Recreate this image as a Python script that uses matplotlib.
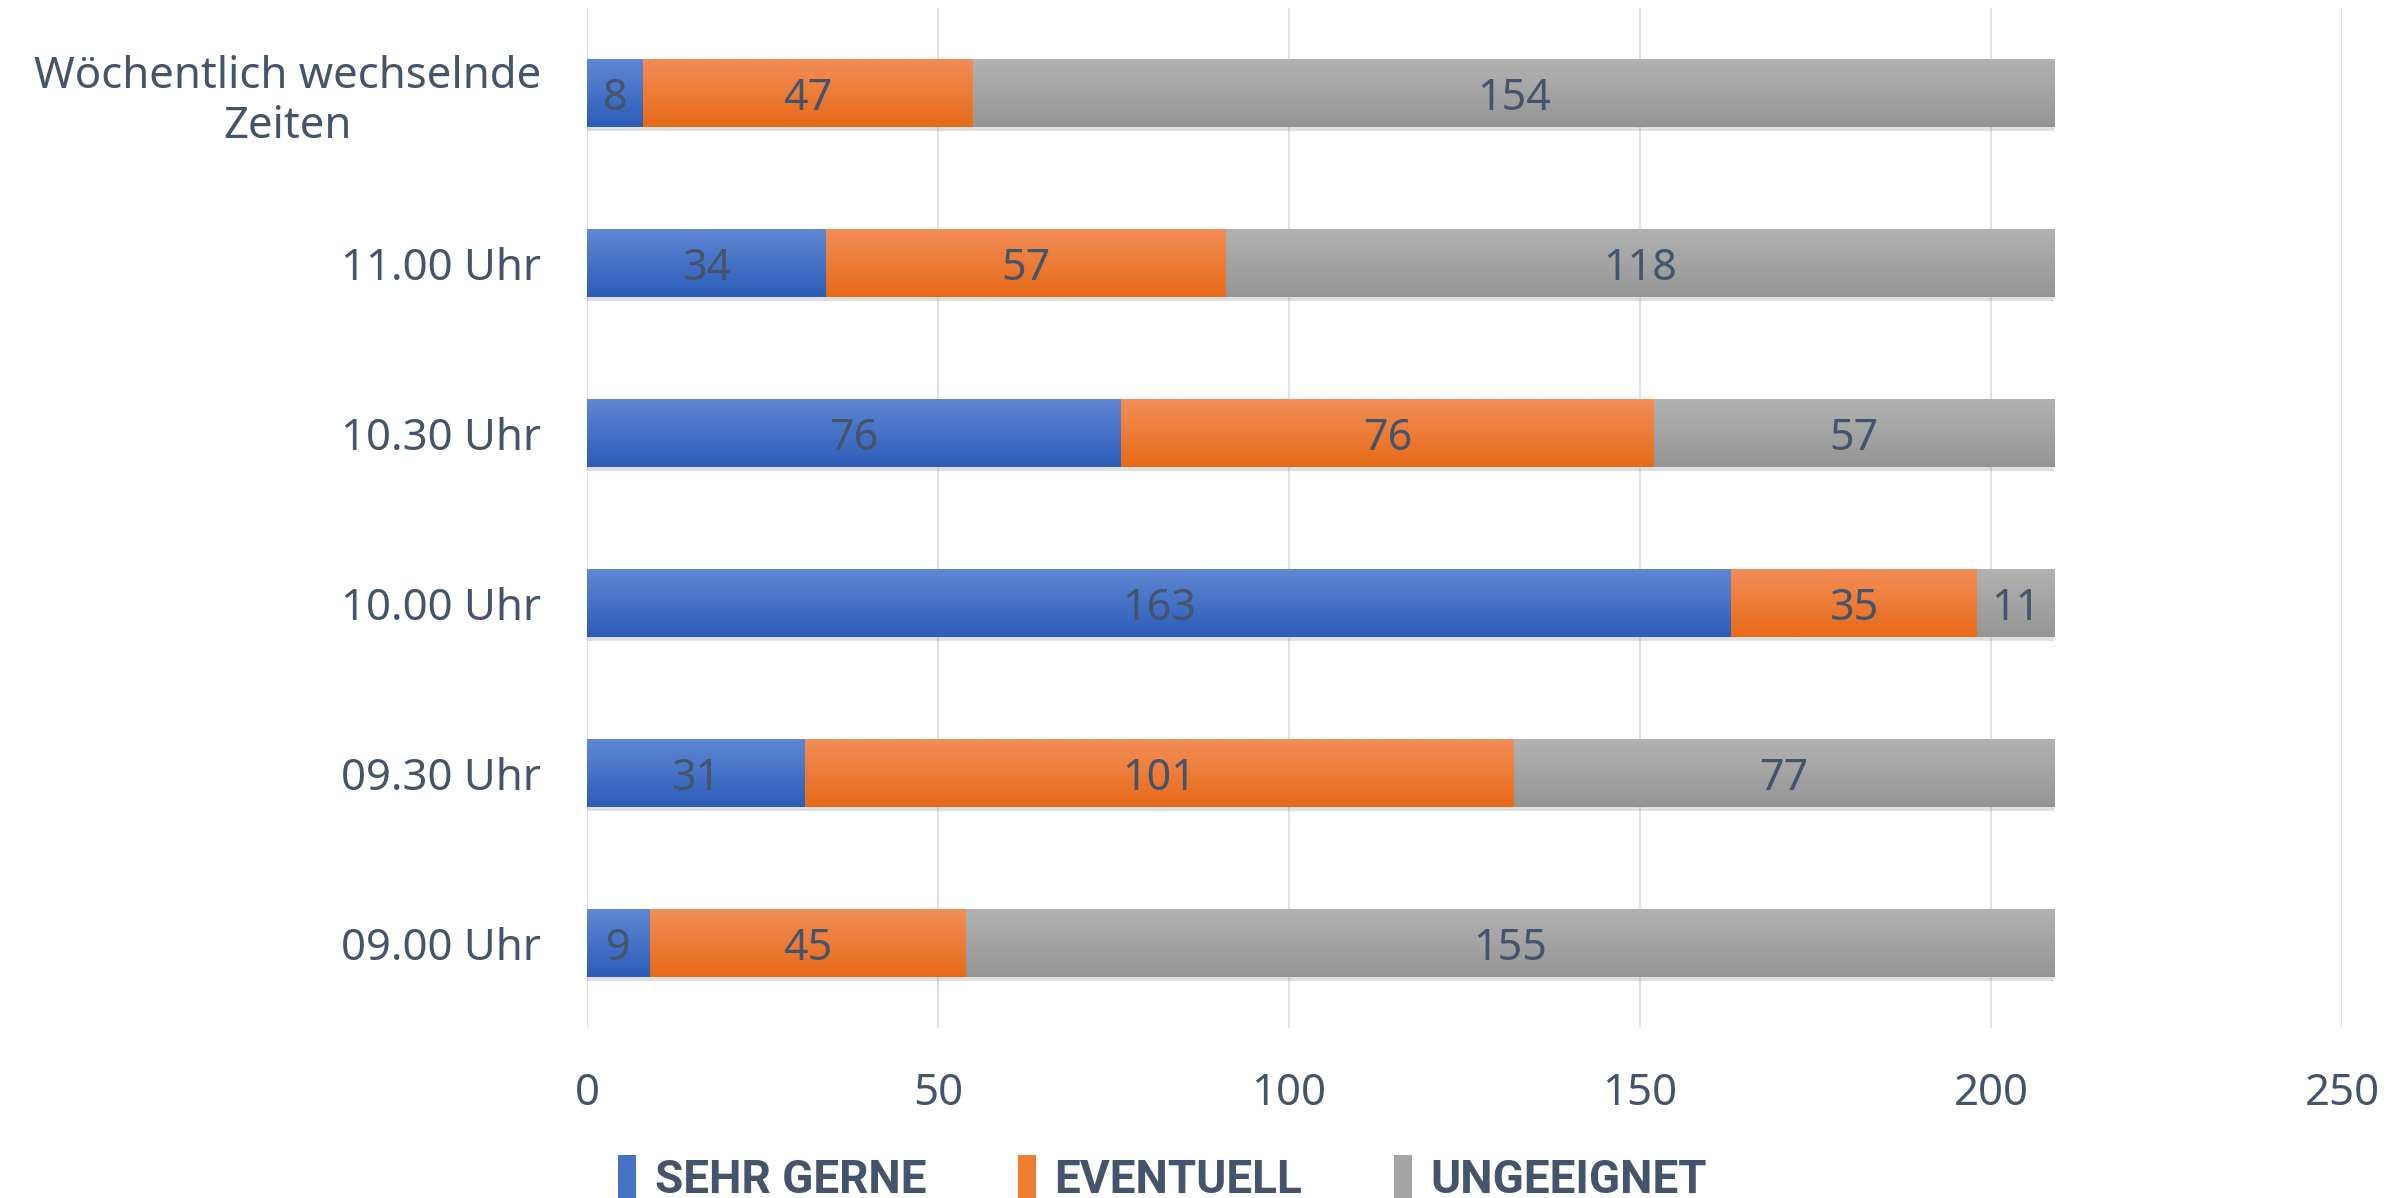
import matplotlib
matplotlib.use("Agg")
import matplotlib.pyplot as plt
import matplotlib.patheffects as pe
from matplotlib.colors import LinearSegmentedColormap
from matplotlib.patches import Patch
import numpy as np

# data (top to bottom as shown)
categories = ["Wöchentlich wechselnde\nZeiten", "11.00 Uhr", "10.30 Uhr",
              "10.00 Uhr", "09.30 Uhr", "09.00 Uhr"]
sehr_gerne = [8, 34, 76, 163, 31, 9]
eventuell = [47, 57, 76, 35, 101, 45]
ungeeignet = [154, 118, 57, 11, 77, 155]
series_names = ["SEHR GERNE", "EVENTUELL", "UNGEEIGNET"]
x_ticks = [0, 50, 100, 150, 200, 250]

# top/bottom gradient colours of each series
grad = [("#5F87D3", "#2D5DB9"), ("#F28E58", "#E76A18"), ("#B2B2B2", "#959595")]
mid = ["#4472C4", "#ED7D31", "#A5A5A5"]
txt = "#44546A"

plt.rcParams['font.family'] = ['Noto Sans', 'DejaVu Sans']

fig = plt.figure(figsize=(23.92, 11.98), dpi=100)
ax = fig.add_axes([0.2454, 0.1419, 0.7337, 0.8514])

y = np.arange(len(categories))
left = np.zeros(len(categories))
series = [sehr_gerne, eventuell, ungeeignet]
for vals, (c_top, c_bot), m, name in zip(series, grad, mid, series_names):
    bars = ax.barh(y, vals, left=left, height=0.4, color=m, zorder=2, label=name,
                   path_effects=[pe.SimplePatchShadow(offset=(0, -3), alpha=0.25,
                                                      shadow_rgbFace="#808080"),
                                 pe.Normal()])
    cmap = LinearSegmentedColormap.from_list("g", [c_top, c_bot])
    g = np.linspace(0, 1, 64).reshape(-1, 1)
    for b, v in zip(bars, vals):
        x0, y0 = b.get_x(), b.get_y()
        x1, y1 = x0 + b.get_width(), y0 + b.get_height()
        ax.imshow(g, cmap=cmap, extent=(x0, x1, y1, y0), origin="upper",
                  aspect="auto", zorder=3, interpolation="bilinear")
        ax.text(x0 + v / 2, y0 + b.get_height() / 2, str(v), ha="center",
                va="center_baseline", fontsize=31, color=txt, zorder=4)
    left = left + np.array(vals)

ax.set_xlim(0, 250)
ax.set_ylim(len(categories) - 0.5, -0.5)
ax.set_xticks(x_ticks)
ax.set_yticks(y)
ax.set_yticklabels(categories, multialignment="center")
ax.tick_params(axis="both", length=0, labelsize=31.5, colors=txt)
ax.tick_params(axis="x", pad=32)
ax.tick_params(axis="y", pad=33)
ax.grid(axis="x", color="#DEE2EA", linewidth=1.5, zorder=0)
ax.set_axisbelow(True)
for s in ax.spines.values():
    s.set_visible(False)

# legend with solid handles
leg_handles = [Patch(facecolor=m) for m in mid]
leg = fig.legend(leg_handles, series_names, loc="center", bbox_to_anchor=(0.486, 0.0165),
                 ncol=3, frameon=False, handlelength=0.4, handleheight=1.1,
                 handletextpad=0.4, columnspacing=2.0,
                 prop={"family": ["Liberation Sans Narrow", "Roboto", "DejaVu Sans"],
                       "size": 33, "weight": "bold"})
for t in leg.get_texts():
    t.set_color(txt)

fig.savefig("out.png", dpi=100)
